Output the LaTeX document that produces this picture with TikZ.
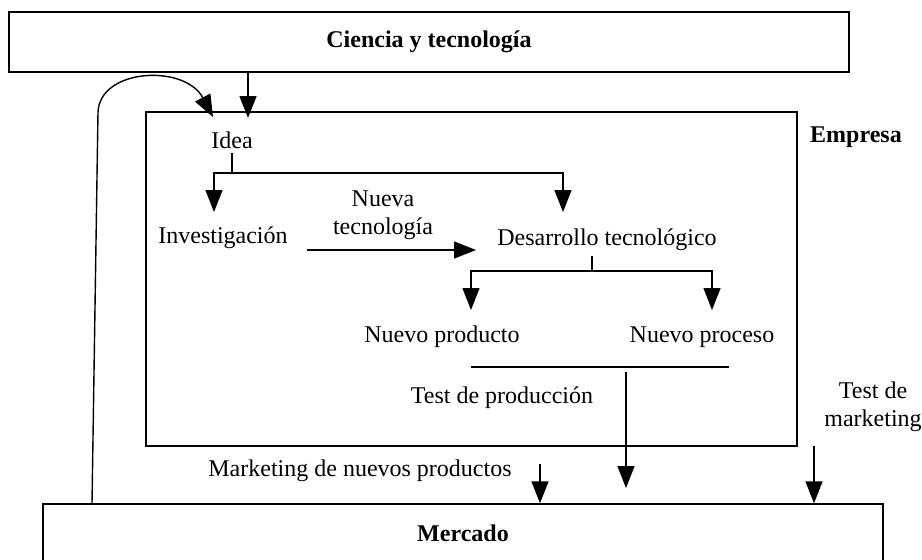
\documentclass[tikz,border=0pt]{standalone}
\usepackage{fontspec}
\setmainfont{Liberation Serif}
\usepackage{tikz}
\usetikzlibrary{arrows.meta, positioning, calc}

\begin{document}
\begin{tikzpicture}[
        x=0.5pt, y=-0.5pt,
        font=\fontsize{12}{14}\selectfont,
        every path/.style={line width=0.7pt},
        caja/.style={rectangle, draw, inner sep=0pt, font=\fontsize{12}{14}\selectfont\bfseries},
        texto/.style={inner sep=2pt, align=center},
        flecha/.style={-{Triangle[length=11pt, width=8.5pt]}}
    ]
        \useasboundingbox (0,0) rectangle (922,559);

        % Cajas
        \node[caja, minimum width=420pt, minimum height=30pt] (ciencia) at (429,42) {Ciencia y tecnología};
        \node[caja, minimum width=325.5pt, minimum height=167pt] (empresa) at (471.5,279) {};
        \node[texto, font=\fontsize{12}{14}\selectfont\bfseries] (empresaLbl) at (856,137) {Empresa};
        \node[caja, minimum width=420pt, minimum height=29pt] (mercado) at (463,533) {Mercado};

        % Textos
        \node[texto] (idea) at (232,140) {Idea};
        \node[texto] (invest) at (223,238) {Investigación};
        \node[texto] (nuevaTec) at (383,215) {Nueva\\tecnología};
        \node[texto] (desarrollo) at (607,240) {Desarrollo tecnológico};
        \node[texto] (producto) at (442,337) {Nuevo producto};
        \node[texto] (proceso) at (702,337) {Nuevo proceso};
        \node[texto] (testProd) at (502,398) {Test de producción};
        \node[texto] (marketing) at (360,471) {Marketing de nuevos productos};
        \node[texto] (testMkt) at (873,407) {Test de\\marketing};

        % Puntos de paso
        \coordinate (ideaIn) at (248,118);
        \coordinate (ideaSplit) at (232,173);
        \coordinate (invIn) at (214,212);
        \coordinate (desIn) at (563,212);
        \coordinate (invOut) at (307,250);
        \coordinate (desLeft) at (476,250);
        \coordinate (desSplit) at (592,271);
        \coordinate (prodIn) at (471,310);
        \coordinate (procIn) at (712,310);
        \coordinate (testL) at (471,367);
        \coordinate (testR) at (729,367);
        \coordinate (testOut) at (626,372);
        \coordinate (testIn) at (626,488);
        \coordinate (mkOut) at (540,464);
        \coordinate (mkTestOut) at (814,446);
        \coordinate (retorno) at (98,112);
        \coordinate (ideaBack) at (213,117);

        % Ciencia -> Idea
        \draw[flecha] (ideaIn |- ciencia.south) -- (ideaIn);

        % Retorno desde el mercado
        \draw[flecha] (mercado.north -| 92,0) -- (retorno)
            .. controls (100,68) and (185,64) .. (ideaBack);

        % Idea -> investigación y desarrollo
        \draw (idea.south) -- (ideaSplit);
        \draw[flecha] (ideaSplit) -| (invIn);
        \draw[flecha] (ideaSplit) -| (desIn);
        \draw[flecha] (invOut) -- (desLeft);

        % Desarrollo -> producto y proceso
        \draw (desarrollo.south -| desSplit) -- (desSplit);
        \draw[flecha] (desSplit) -| (prodIn);
        \draw[flecha] (desSplit) -| (procIn);

        % Test de produccion
        \draw (testL) -- (testR);
        \draw[flecha] (testOut) -- (testIn);

        % Hacia el mercado
        \draw[flecha] (mkOut) -- (mkOut |- mercado.north);
        \draw[flecha] (mkTestOut) -- (mkTestOut |- mercado.north);

    \end{tikzpicture}
\end{document}
